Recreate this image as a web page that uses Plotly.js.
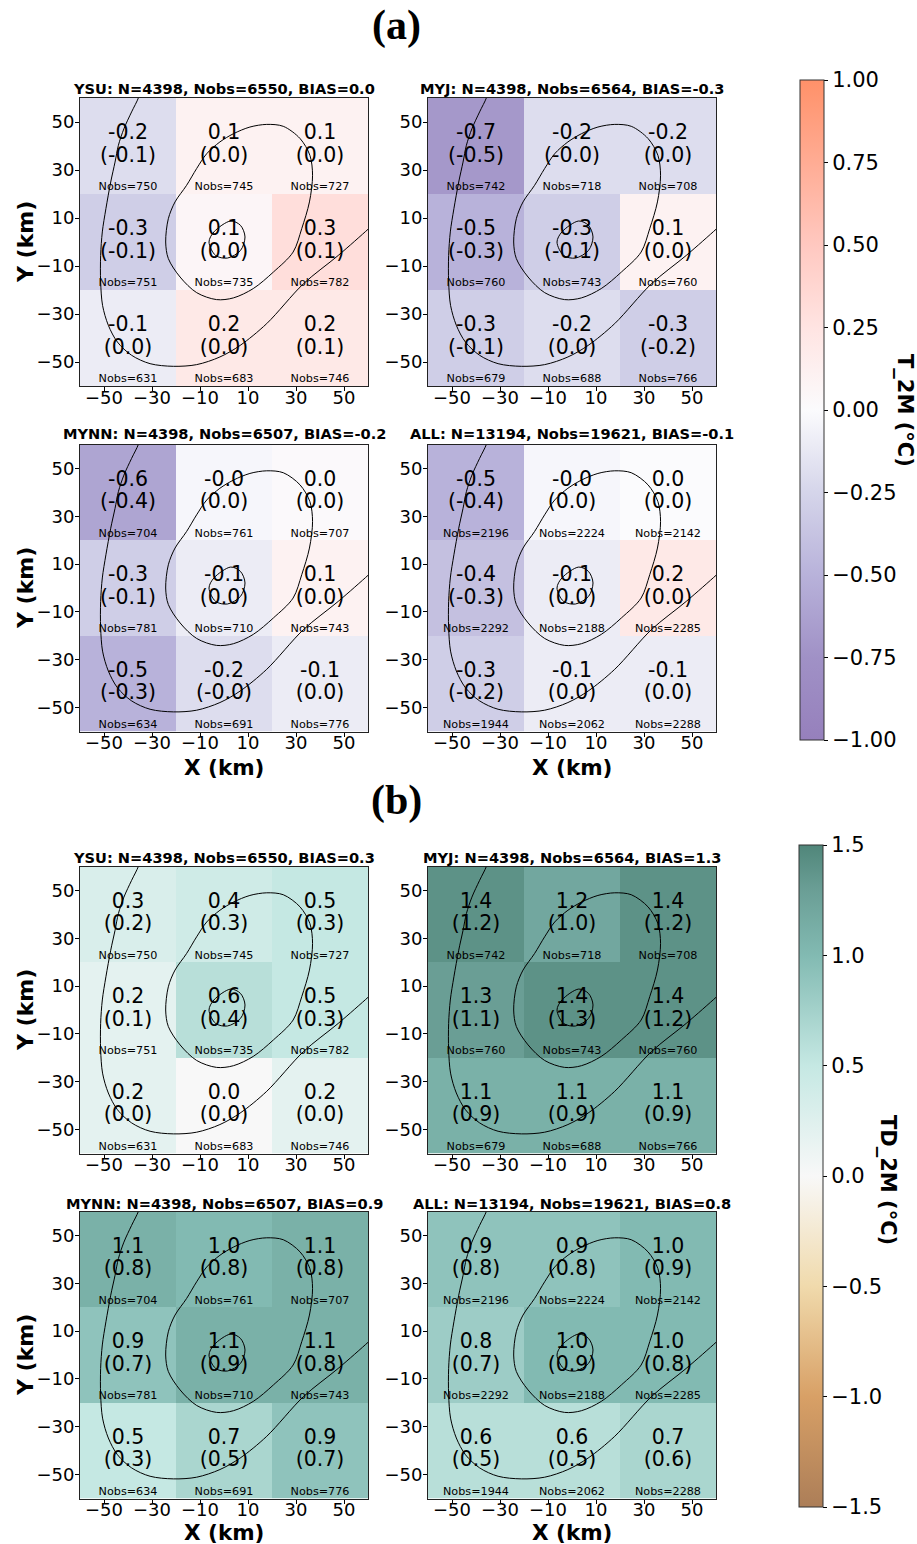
<!DOCTYPE html>
<html><head><meta charset="utf-8">
<script src="https://cdn.plot.ly/plotly-3.0.1.min.js"></script>
<style>body{margin:0;background:#fff}#chart{width:917px;height:1544px}</style>
</head><body><div id="chart"></div>
<script>
const W = 917, H = 1544;

// ---------- data ----------
const xCenters = [-40, 0, 40];
const yCenters = [40, 0, -40];          // rows listed top -> bottom
const axisTicks = [-50, -30, -10, 10, 30, 50];

const schemes   = ["YSU", "MYJ", "MYNN", "ALL"];
const nCases    = [4398, 4398, 4398, 13194];
const nObsTotal = [6550, 6564, 6507, 19621];
const biasT2M   = ["0.0", "-0.3", "-0.2", "-0.1"];
const biasTD2M  = ["0.3", "1.3", "0.9", "0.8"];

const nobsYSU  = [[750, 745, 727], [751, 735, 782], [631, 683, 746]];
const nobsMYJ  = [[742, 718, 708], [760, 743, 760], [679, 688, 766]];
const nobsMYNN = [[704, 761, 707], [781, 710, 743], [634, 691, 776]];
const nobsALL  = [[2196, 2224, 2142], [2292, 2188, 2285], [1944, 2062, 2288]];

// T_2M mean bias and (median) per cell
const t2mYSU       = [[-0.2, 0.1, 0.1], [-0.3, 0.06, 0.3], [-0.1, 0.2, 0.2]];
const t2mYSUpar    = [[-0.1, 0.0, 0.0], [-0.1, 0.0, 0.1], [0.0, 0.0, 0.1]];
const t2mMYJ       = [[-0.7, -0.2, -0.2], [-0.5, -0.3, 0.1], [-0.3, -0.2, -0.3]];
const t2mMYJpar    = [[-0.5, -0.02, 0.0], [-0.3, -0.1, 0.0], [-0.1, 0.0, -0.2]];
const t2mMYNN      = [[-0.6, -0.03, 0.02], [-0.3, -0.1, 0.1], [-0.5, -0.2, -0.1]];
const t2mMYNNpar   = [[-0.4, 0.0, 0.0], [-0.1, 0.0, 0.0], [-0.3, -0.02, 0.0]];
const t2mALL       = [[-0.5, -0.03, 0.0], [-0.4, -0.1, 0.2], [-0.3, -0.1, -0.1]];
const t2mALLpar    = [[-0.4, 0.0, 0.0], [-0.3, 0.0, 0.0], [-0.2, 0.0, 0.0]];

// TD_2M
const td2mYSU      = [[0.3, 0.4, 0.5], [0.2, 0.6, 0.5], [0.2, 0.0, 0.2]];
const td2mYSUpar   = [[0.2, 0.3, 0.3], [0.1, 0.4, 0.3], [0.0, 0.0, 0.0]];
const td2mMYJ      = [[1.4, 1.2, 1.4], [1.3, 1.4, 1.4], [1.1, 1.1, 1.1]];
const td2mMYJpar   = [[1.2, 1.0, 1.2], [1.1, 1.3, 1.2], [0.9, 0.9, 0.9]];
const td2mMYNN     = [[1.1, 1.0, 1.1], [0.9, 1.1, 1.1], [0.5, 0.7, 0.9]];
const td2mMYNNpar  = [[0.8, 0.8, 0.8], [0.7, 0.9, 0.8], [0.3, 0.5, 0.7]];
const td2mALL      = [[0.9, 0.9, 1.0], [0.8, 1.0, 1.0], [0.6, 0.6, 0.7]];
const td2mALLpar   = [[0.8, 0.8, 0.9], [0.7, 0.9, 0.8], [0.5, 0.5, 0.6]];

// contour lines (km)
const outerX = [-35.3, -35.7, -38.5, -41.7, -44.0, -45.4, -47.2, -49.2, -50.7, -51.4, -51.4, -50.6, -48.2, -44.4, -38.5, -30.8, -21.1, -11.4, -1.7, 6.7, 17.8, 33.1, 47.6, 60, 62];
const outerY = [62, 60, 54.2, 47.2, 40.3, 33.3, 25, 13.9, 4.2, -5.6, -16.7, -26.4, -34.7, -41.7, -47.2, -50.7, -51.8, -51.1, -47.9, -43.1, -34.0, -17.4, -5.6, 5.3, 7.2];
const midX = [17.8, 24.7, 31.7, 35.8, 36.9, 35.6, 32.4, 28.8, 20.6, 12.2, 3.9, -3.1, -11.4, -18.3, -23.2, -24.3, -23.2, -20.4, -15.6, -11.4, -7.2, -1.7, 3.9, 10.8, 17.8];
const midY = [49.0, 48.2, 43.1, 36.1, 27.8, 16.7, 5.6, -4.2, -12.5, -19.4, -23.3, -24.0, -21.1, -14.6, -6.9, 0, 9.7, 16.7, 23.6, 30.6, 36.8, 41.7, 45.1, 47.9, 49.0];
const innerX = [2.8, 6.9, 8.75, 6.9, 1.4, -3.5, -6.25, -4.2, 2.8];
const innerY = [8.75, 6.9, 2.1, -3.5, -6.7, -5.6, 0.0, 4.2, 8.75];

// colour scales
const scaleT2M = [
  [0.0, "rgb(150,128,188)"], [0.125, "rgb(160,145,198)"], [0.25, "rgb(184,178,218)"],
  [0.375, "rgb(213,213,234)"], [0.5, "rgb(251,251,253)"], [0.625, "rgb(255,228,226)"],
  [0.75, "rgb(255,200,192)"], [0.875, "rgb(255,172,148)"], [1.0, "rgb(255,145,105)"]
];
const scaleTD2M = [
  [0.0, "rgb(172,126,88)"], [1/6, "rgb(216,160,102)"], [1/3, "rgb(240,218,172)"],
  [0.5, "rgb(248,248,248)"], [2/3, "rgb(197,232,227)"], [5/6, "rgb(130,186,178)"],
  [0.9333, "rgb(106,158,149)"], [1.0, "rgb(80,134,122)"]
];

// ---------- layout helpers ----------
const FONT = "DejaVu Sans";
const colPx = [[80, 368], [428, 716]];
const rowPx = [[98, 386], [444.5, 731.5], [866.5, 1153.5], [1211.5, 1498.5]];
const titleY = [89, 433, 857, 1203];
const xTitleY = [767, 1532];

const panels = [
  {mean: t2mYSU,  par: t2mYSUpar,  nobs: nobsYSU,  s: 0, bias: biasT2M,  ca: "coloraxis"},
  {mean: t2mMYJ,  par: t2mMYJpar,  nobs: nobsMYJ,  s: 1, bias: biasT2M,  ca: "coloraxis"},
  {mean: t2mMYNN, par: t2mMYNNpar, nobs: nobsMYNN, s: 2, bias: biasT2M,  ca: "coloraxis"},
  {mean: t2mALL,  par: t2mALLpar,  nobs: nobsALL,  s: 3, bias: biasT2M,  ca: "coloraxis"},
  {mean: td2mYSU, par: td2mYSUpar, nobs: nobsYSU,  s: 0, bias: biasTD2M, ca: "coloraxis2"},
  {mean: td2mMYJ, par: td2mMYJpar, nobs: nobsMYJ,  s: 1, bias: biasTD2M, ca: "coloraxis2"},
  {mean: td2mMYNN,par: td2mMYNNpar,nobs: nobsMYNN, s: 2, bias: biasTD2M, ca: "coloraxis2"},
  {mean: td2mALL, par: td2mALLpar, nobs: nobsALL,  s: 3, bias: biasTD2M, ca: "coloraxis2"}
];

const traces = [];
const layout = {
  width: W, height: H, margin: {l: 0, r: 0, t: 0, b: 0},
  paper_bgcolor: "#fff", plot_bgcolor: "#fff",
  font: {family: FONT, color: "#000"},
  showlegend: false,
  annotations: [],
  coloraxis: {
    cmin: -1, cmax: 1, colorscale: scaleT2M,
    colorbar: {
      x: 800 / W, xanchor: "left", xpad: 0, y: 1 - 740 / H, yanchor: "bottom", ypad: 0,
      len: 660, lenmode: "pixels", thickness: 24, thicknessmode: "pixels",
      outlinewidth: 1, outlinecolor: "#333",
      ticks: "outside", ticklen: 4, tickwidth: 1, tickcolor: "#000",
      tickvals: [-1, -0.75, -0.5, -0.25, 0, 0.25, 0.5, 0.75, 1], tickformat: ".2f",
      tickfont: {family: FONT, size: 21, color: "#000"}
    }
  },
  coloraxis2: {
    cmin: -1.5, cmax: 1.5, colorscale: scaleTD2M,
    colorbar: {
      x: 799 / W, xanchor: "left", xpad: 0, y: 1 - 1507 / H, yanchor: "bottom", ypad: 0,
      len: 662, lenmode: "pixels", thickness: 24, thicknessmode: "pixels",
      outlinewidth: 1, outlinecolor: "#333",
      ticks: "outside", ticklen: 4, tickwidth: 1, tickcolor: "#000",
      tickvals: [-1.5, -1, -0.5, 0, 0.5, 1, 1.5], tickformat: ".1f",
      tickfont: {family: FONT, size: 21, color: "#000"}
    }
  }
};

function ann(text, px, py, size, bold, extra) {
  return Object.assign({
    text: bold ? "<b>" + text + "</b>" : text,
    xref: "paper", yref: "paper", x: px / W, y: 1 - py / H,
    xanchor: "center", yanchor: "middle", showarrow: false,
    font: {family: FONT, size: size, color: "#000"}
  }, extra || {});
}

panels.forEach((p, k) => {
  const n = k + 1;
  const xa = "x" + (n === 1 ? "" : n), ya = "y" + (n === 1 ? "" : n);
  const row = Math.floor(k / 2), col = k % 2;
  const cp = colPx[col], rp = rowPx[row];

  const axBase = {
    range: [-60, 60], tickmode: "array", tickvals: axisTicks,
    ticks: "outside", ticklen: 4, tickwidth: 1, tickcolor: "#000",
    showline: true, linecolor: "#222", linewidth: 1, mirror: true,
    showgrid: false, zeroline: false, fixedrange: true,
    tickfont: {family: FONT, size: 18, color: "#000"}
  };
  layout["xaxis" + (n === 1 ? "" : n)] = Object.assign({}, axBase, {
    domain: [cp[0] / W, cp[1] / W], anchor: ya, ticklabelstandoff: -9
  });
  layout["yaxis" + (n === 1 ? "" : n)] = Object.assign({}, axBase, {
    domain: [1 - rp[1] / H, 1 - rp[0] / H], anchor: xa, ticklabelstandoff: -3
  });

  // heatmap (y ascending)
  traces.push({
    type: "heatmap", xaxis: xa, yaxis: ya,
    x: xCenters, y: yCenters.slice().reverse(), z: p.mean.slice().reverse(),
    coloraxis: p.ca, hoverinfo: "skip", zsmooth: false
  });

  // contour lines
  [[outerX, outerY], [midX, midY], [innerX, innerY]].forEach(c => {
    traces.push({
      type: "scatter", mode: "lines", xaxis: xa, yaxis: ya,
      x: c[0], y: c[1], line: {color: "#000", width: 1, shape: "spline", smoothing: 0.9},
      hoverinfo: "skip"
    });
  });

  // cell texts
  const tx = [], ty1 = [], ty2 = [], ty3 = [], t1 = [], t2 = [], t3 = [];
  yCenters.forEach((yc, i) => {
    xCenters.forEach((xc, j) => {
      tx.push(xc);
      ty1.push(yc + 5.0); t1.push(p.mean[i][j].toFixed(1));
      ty2.push(yc - 4.4); t2.push("(" + p.par[i][j].toFixed(1) + ")");
      ty3.push(yc - 17.3); t3.push("Nobs=" + p.nobs[i][j]);
    });
  });
  [[ty1, t1, 20.5], [ty2, t2, 20.5], [ty3, t3, 11.2]].forEach(d => {
    traces.push({
      type: "scatter", mode: "text", xaxis: xa, yaxis: ya,
      x: tx, y: d[0], text: d[1], textposition: "middle center",
      textfont: {family: FONT, size: d[2], color: "#000"},
      hoverinfo: "skip", cliponaxis: false
    });
  });

  // subplot title
  const cx = (cp[0] + cp[1]) / 2;
  layout.annotations.push(ann(
    schemes[p.s] + ": N=" + nCases[p.s] + ", Nobs=" + nObsTotal[p.s] + ", BIAS=" + p.bias[p.s],
    cx, titleY[row], 14.6, true));

  // axis titles
  if (col === 0) {
    layout.annotations.push(ann("Y (km)", 25, (rp[0] + rp[1]) / 2, 22, true, {textangle: -90}));
  }
  if (row === 1 || row === 3) {
    layout.annotations.push(ann("X (km)", cx, xTitleY[row === 1 ? 0 : 1], 21.5, true));
  }
});

// group titles
layout.annotations.push(ann("(a)", 396, 26, 42, true, {font: {family: "Liberation Serif", size: 42, color: "#000"}}));
layout.annotations.push(ann("(b)", 396, 801, 42, true, {font: {family: "Liberation Serif", size: 42, color: "#000"}}));

// colorbar titles
layout.annotations.push(ann("T_2M (°C)", 905, 410, 21, true, {textangle: 90}));
layout.annotations.push(ann("TD_2M (°C)", 888, 1180, 21, true, {textangle: 90}));

Plotly.newPlot("chart", traces, layout, {staticPlot: true, displayModeBar: false});
</script>
</body></html>
